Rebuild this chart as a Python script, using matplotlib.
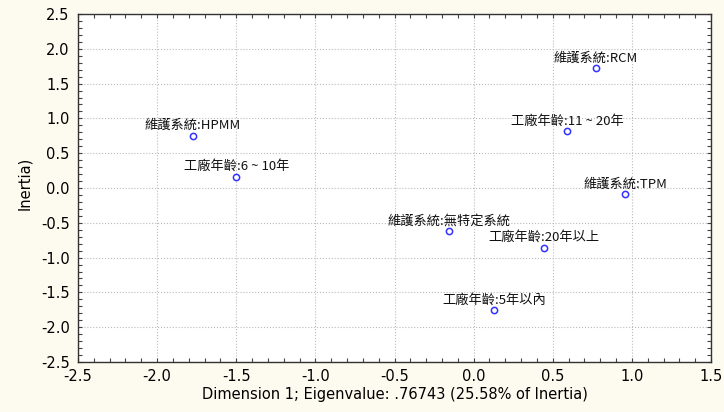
import matplotlib
matplotlib.use("Agg")
import matplotlib.pyplot as plt
from matplotlib.ticker import MultipleLocator

plt.rcParams['font.family'] = ['Noto Sans CJK TC', 'DejaVu Sans']

labels = ["維護系統:RCM", "工廠年齡:11 ~ 20年", "維護系統:HPMM", "工廠年齡:6 ~ 10年",
          "維護系統:TPM", "維護系統:無特定系統", "工廠年齡:20年以上", "工廠年齡:5年以內"]
dim1 = [0.771, 0.590, -1.774, -1.500, 0.958, -0.156, 0.444, 0.128]
dim2 = [1.728, 0.823, 0.752, 0.163, -0.086, -0.620, -0.857, -1.753]

x_ticks = [-2.5, -2.0, -1.5, -1.0, -0.5, 0.0, 0.5, 1.0, 1.5]
y_ticks = [-2.5, -2.0, -1.5, -1.0, -0.5, 0.0, 0.5, 1.0, 1.5, 2.0, 2.5]

bg = '#FDFBF0'
fig = plt.figure(figsize=(7.24, 4.12), dpi=100, facecolor=bg)
ax = fig.add_axes([78/724, 1-362/412, (711-78)/724, (362-14)/412])
ax.set_facecolor('white')

ax.plot(dim1, dim2, linestyle='none', marker='o', markersize=4.5,
        markerfacecolor='white', markeredgecolor='#3333FF', markeredgewidth=1.1, zorder=3)

for lab, x, y in zip(labels, dim1, dim2):
    ax.annotate(lab, (x, y), xytext=(0, 2.5), textcoords='offset points',
                ha='center', va='bottom', fontsize=9.5, color='#111111')

ax.set_xlim(-2.5, 1.5)
ax.set_ylim(-2.5, 2.5)
ax.set_xticks(x_ticks)
ax.set_yticks(y_ticks)
ax.set_xticklabels([f"{v:.1f}" for v in x_ticks], family='DejaVu Sans', fontsize=10.5)
ax.set_yticklabels([f"{v:.1f}" for v in y_ticks], family='DejaVu Sans', fontsize=10.5)
ax.xaxis.set_minor_locator(MultipleLocator(0.1))
ax.yaxis.set_minor_locator(MultipleLocator(0.1))
ax.tick_params(which='both', direction='in', top=True, right=True, length=3,
               width=0.8, color='#444444')
ax.tick_params(axis='x', which='major', pad=5)
ax.tick_params(axis='y', which='major', pad=6)
ax.grid(True, which='major', linestyle=':', color='#BBBBBB', linewidth=0.8)
for s in ax.spines.values():
    s.set_color('#333333')
    s.set_linewidth(1.0)

ax.set_xlabel("Dimension 1; Eigenvalue: .76743 (25.58% of Inertia)",
              family='DejaVu Sans', fontsize=10.5, labelpad=2)
fig.text(25/724, 1-183/412, "Inertia)", rotation=90, ha='center', va='center',
         family='DejaVu Sans', fontsize=10.5)

fig.savefig("out.png", dpi=100, facecolor=bg)
